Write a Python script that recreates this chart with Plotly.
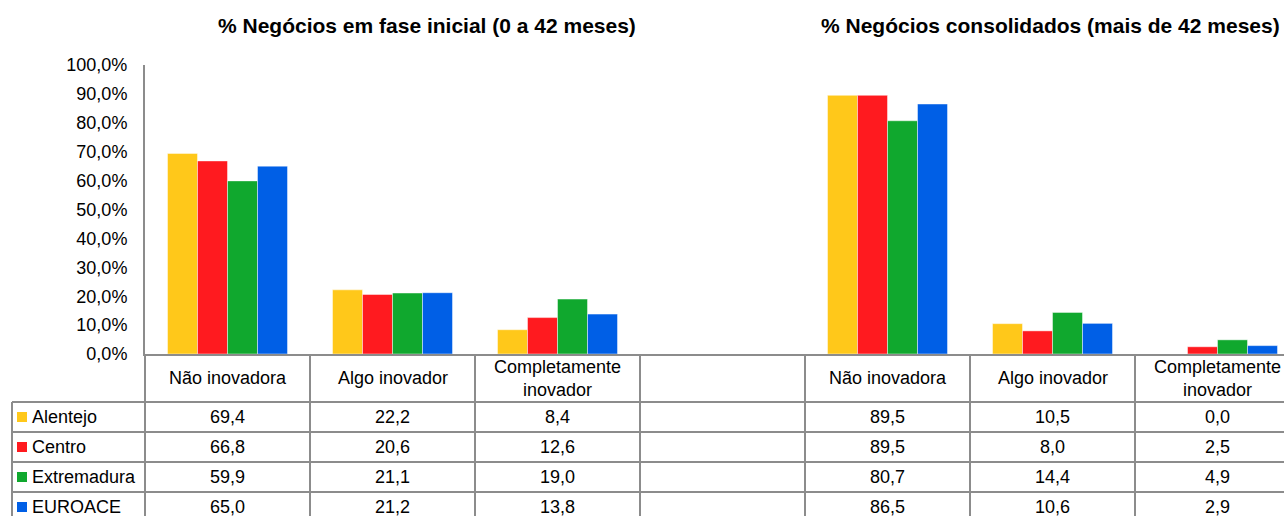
import plotly.graph_objects as go

# ---- data -------------------------------------------------------------
categories = ["Não inovadora", "Algo inovador", "Completamente inovador", "",
              "Não inovadora", "Algo inovador", "Completamente inovador"]
header_labels = ["Não inovadora", "Algo inovador", "Completamente<br>inovador", "",
                 "Não inovadora", "Algo inovador", "Completamente<br>inovador"]
series_names = ["Alentejo", "Centro", "Extremadura", "EUROACE"]
alentejo = [69.4, 22.2, 8.4, None, 89.5, 10.5, 0.0]
centro = [66.8, 20.6, 12.6, None, 89.5, 8.0, 2.5]
extremadura = [59.9, 21.1, 19.0, None, 80.7, 14.4, 4.9]
euroace = [65.0, 21.2, 13.8, None, 86.5, 10.6, 2.9]
y_ticks = [0, 10, 20, 30, 40, 50, 60, 70, 80, 90, 100]
y_tick_labels = ["0,0%", "10,0%", "20,0%", "30,0%", "40,0%", "50,0%",
                 "60,0%", "70,0%", "80,0%", "90,0%", "100,0%"]
group_titles = ["% Negócios em fase inicial (0 a 42 meses)",
                "% Negócios consolidados (mais de 42 meses)"]

# ---- styling / layout -------------------------------------------------
colors = ["#FFC81A", "#FF1A1F", "#10A82E", "#005FE6"]
FONT = "Liberation Sans, Arial, sans-serif"
GRID = "#8C8C8C"
W, H = 1284, 516
PLOT_L, PLOT_T, PLOT_B = 145, 65, 354
CAT_W = 165                        # pixel width of one category column
X0 = -0.5
X1 = X0 + (W - PLOT_L) / CAT_W     # right end of the axis range
HEADER_BOTTOM = 402
ROW_H = 30
LEGEND_LEFT = 12

series = [alentejo, centro, extremadura, euroace]
xs = list(range(len(categories)))


def px_to_py(px):
    """Vertical pixel position -> paper fraction."""
    return (PLOT_B - px) / (PLOT_B - PLOT_T)


def px_to_px_paper(px):
    """Horizontal pixel position -> paper fraction."""
    return (px - PLOT_L) / (W - PLOT_L)


def xdata_to_paper(x):
    """Category-axis coordinate -> paper fraction via the axis range."""
    return (x - X0) / (X1 - X0)


def fmt(v):
    return f"{v:.1f}".replace(".", ",")


fig = go.Figure()
for name, vals, col in zip(series_names, series, colors):
    fig.add_trace(go.Bar(
        x=xs, y=vals, name=name,
        marker=dict(color=col, line=dict(color="rgba(255,255,255,0.45)", width=1)),
        hoverinfo="skip",
    ))

shapes = []
annotations = []
line_style = dict(color=GRID, width=2)

# table: horizontal rules
n_rows = len(series_names)
row_tops = [HEADER_BOTTOM + i * ROW_H for i in range(n_rows + 1)]
right_edge = xdata_to_paper(len(categories) - 0.5)
for yy in row_tops:
    shapes.append(dict(type="line", xref="paper", yref="paper",
                       x0=px_to_px_paper(LEGEND_LEFT), x1=right_edge,
                       y0=px_to_py(yy), y1=px_to_py(yy), line=line_style, layer="above"))

# table: vertical rules
table_bottom = px_to_py(row_tops[-1])
shapes.append(dict(type="line", xref="paper", yref="paper",
                   x0=px_to_px_paper(LEGEND_LEFT), x1=px_to_px_paper(LEGEND_LEFT),
                   y0=px_to_py(HEADER_BOTTOM), y1=table_bottom, line=line_style))
for k in range(-1, len(categories)):
    xp = xdata_to_paper(k + 0.5)
    shapes.append(dict(type="line", xref="paper", yref="paper",
                       x0=xp, x1=xp, y0=0, y1=table_bottom, line=line_style))

# table: column headers
header_mid = px_to_py((PLOT_B + HEADER_BOTTOM) / 2)
for x, lab in zip(xs, header_labels):
    if lab:
        annotations.append(dict(x=x, y=header_mid, xref="x", yref="paper",
                                text=lab, showarrow=False, yanchor="middle",
                                font=dict(family=FONT, size=18, color="#000")))

# table: legend keys, series names and values
for i, (name, vals, col) in enumerate(zip(series_names, series, colors)):
    cy = HEADER_BOTTOM + i * ROW_H + ROW_H / 2
    shapes.append(dict(type="rect", xref="paper", yref="paper",
                       x0=px_to_px_paper(17), x1=px_to_px_paper(27),
                       y0=px_to_py(cy + 5), y1=px_to_py(cy - 5),
                       fillcolor=col, line=dict(width=0)))
    annotations.append(dict(x=px_to_px_paper(30), y=px_to_py(cy), xref="paper", yref="paper",
                            text=name, showarrow=False, xanchor="left", yanchor="middle",
                            font=dict(family=FONT, size=18, color="#000")))
    for x, v in zip(xs, vals):
        if v is not None:
            annotations.append(dict(x=x, y=px_to_py(cy), xref="x", yref="paper",
                                    text=fmt(v), showarrow=False, yanchor="middle",
                                    font=dict(family=FONT, size=18, color="#000")))

# group titles
for title, cx in zip(group_titles, [427, 1050]):
    annotations.append(dict(x=px_to_px_paper(cx), y=px_to_py(25), xref="paper", yref="paper",
                            text=f"<b>{title}</b>", showarrow=False,
                            xanchor="center", yanchor="middle",
                            font=dict(family=FONT, size=21, color="#000")))

fig.update_layout(
    width=W, height=H,
    margin=dict(l=PLOT_L, r=0, t=PLOT_T, b=H - PLOT_B, pad=0),
    paper_bgcolor="white", plot_bgcolor="white",
    barmode="group", bargap=45 / 165, bargroupgap=0,
    showlegend=False,
    font=dict(family=FONT, size=18, color="#000"),
    shapes=shapes, annotations=annotations,
)
fig.update_xaxes(range=[X0, X1], showline=True, linecolor=GRID, linewidth=2,
                 showgrid=False, zeroline=False, showticklabels=False, ticks="")
fig.update_yaxes(range=[0, 100], tickvals=y_ticks, ticktext=y_tick_labels,
                 showline=True, linecolor=GRID, linewidth=2, showgrid=False,
                 zeroline=False, ticks="", ticklabelstandoff=12,
                 tickfont=dict(family=FONT, size=18, color="#000"))

fig.write_html("out.html")
